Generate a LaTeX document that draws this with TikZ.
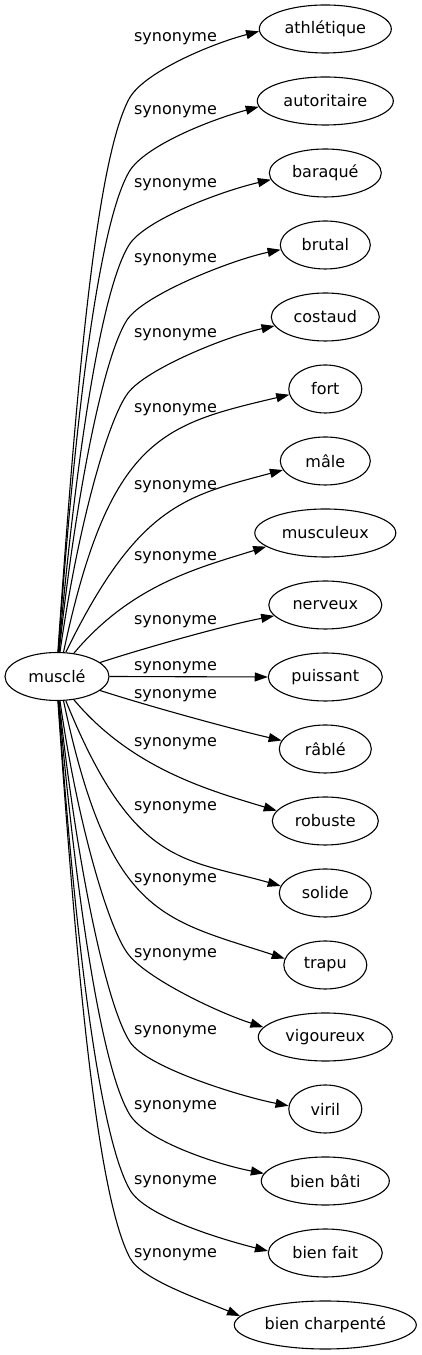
\documentclass[tikz,border=0pt]{standalone}
\usepackage{fontspec}
\setmainfont{DejaVu Sans}
\usetikzlibrary{arrows.meta,shapes.geometric}
\begin{document}
\begin{tikzpicture}[x=1pt,y=1pt,
  every node/.style={font=\fontsize{16}{19}\selectfont},
  tn/.style={draw, ellipse, line width=1.1pt, inner sep=0pt, minimum height=48pt},
  lab/.style={anchor=base, inner sep=0pt},
  edge/.style={draw, line width=1.1pt, -{Triangle[length=13pt,width=9pt]}},
]
\fill[white] (0,0) rectangle (422,1355);
\useasboundingbox (0,0) rectangle (422,1355);

% central node
\node[tn, minimum width=104pt] (m) at (57,678.5) {musclé};

% targets
\node[tn, minimum width=132pt] (athl)   at (325.3,1326) {athlétique};
\node[tn, minimum width=136pt] (autor)  at (325.3,1254) {autoritaire};
\node[tn, minimum width=112pt] (barq)   at (325.3,1182) {baraqué};
\node[tn, minimum width=90pt]  (brutal) at (325.3,1110) {brutal};
\node[tn, minimum width=108pt] (cost)   at (325.3,1038) {costaud};
\node[tn, minimum width=73pt]  (fort)   at (325.3,966)  {fort};
\node[tn, minimum width=90pt]  (male)   at (325.3,894)  {mâle};
\node[tn, minimum width=141pt] (musc)   at (325.3,822)  {musculeux};
\node[tn, minimum width=113pt] (nerv)   at (325.3,750)  {nerveux};
\node[tn, minimum width=114pt] (puis)   at (325.3,678)  {puissant};
\node[tn, minimum width=92pt]  (rable)  at (325.3,606)  {râblé};
\node[tn, minimum width=106pt] (robu)   at (325.3,534)  {robuste};
\node[tn, minimum width=92pt]  (soli)   at (325.3,462)  {solide};
\node[tn, minimum width=83pt]  (trapu)  at (325.3,390)  {trapu};
\node[tn, minimum width=134pt] (vigo)   at (325.3,318)  {vigoureux};
\node[tn, minimum width=73pt]  (viril)  at (325.3,246)  {viril};
\node[tn, minimum width=128pt] (bbati)  at (325.3,174)  {bien bâti};
\node[tn, minimum width=114pt] (bfait)  at (325.3,102)  {bien fait};
\node[tn, minimum width=182pt] (bchar)  at (325.3,30)   {bien charpenté};

% edge labels
\foreach \ly/\nm in {1313/l0,1240/l1,1167/l2,1092/l3,1017/l4,942/l5,865/l6,794/l7,730/l8,684/l9,656/l10,608/l11,544/l12,472/l13,397/l14,320/l15,245/l16,170/l17,97/l18}
  \node[lab] (\nm) at (175.5,\ly) {synonyme};

% upper edges
\draw[edge] (m.88) .. controls +(86:251) and +(242:73) .. (129,1256) .. controls +(62:30) and +(194.7:50) .. (athl.182.6);
\draw[edge] (m.87) .. controls +(86:219) and +(240:63) .. (129,1183) .. controls +(60:30) and +(195:50) .. (autor.185.2);
\draw[edge] (m.86) .. controls +(85:186) and +(238:54) .. (129,1110) .. controls +(58:30) and +(193:50) .. (barq.187.4);
\draw[edge] (m.85) .. controls +(84:153) and +(237:44) .. (127,1035) .. controls +(57:30) and +(191.7:50) .. (brutal.186.5);
\draw[edge] (m.83) .. controls +(82:121) and +(233:35) .. (128,962) .. controls +(53:30) and +(192.3:50) .. (cost.190.2);
\draw[edge] (m.75) .. controls +(78:220) and +(193.3:130) .. (fort.189.6);
\draw[edge] (m.70) .. controls +(64:165) and +(195:100) .. (male.192.2);
\draw[edge] (m.54) .. controls +(50:90) and +(197.4:70) .. (musc.193.7);
\draw[edge] (m.18) .. controls +(18:50) and +(191:50) .. (nerv.192.4);
\draw[edge] (m.east) -- (puis.west);
% lower edges
\draw[edge] (m.-18) .. controls +(-18:50) and +(167:50) .. (rable.169.6);
\draw[edge] (m.-54) .. controls +(-50:90) and +(163.3:70) .. (robu.168.3);
\draw[edge] (m.-70) .. controls +(-68:180) and +(164:100) .. (soli.171);
\draw[edge] (m.-75) .. controls +(-78:220) and +(162:130) .. (trapu.171.5);
\draw[edge] (m.-83) .. controls +(-82:118) and +(127:34) .. (128,401) .. controls +(-53:30) and +(162:50) .. (vigo.171.8);
\draw[edge] (m.-85) .. controls +(-84:157) and +(123:45) .. (130,313) .. controls +(-57:30) and +(169:50) .. (viril.175.3);
\draw[edge] (m.-86) .. controls +(-85:189) and +(122:55) .. (130,240) .. controls +(-58:30) and +(169:50) .. (bbati.173.5);
\draw[edge] (m.-87) .. controls +(-86:222) and +(120:64) .. (130,165) .. controls +(-60:30) and +(166:50) .. (bfait.178);
\draw[edge] (m.-88) .. controls +(-86:253) and +(118:73) .. (130,97) .. controls +(-62:25) and +(157:40) .. (bchar.174.7);
\end{tikzpicture}
\end{document}
